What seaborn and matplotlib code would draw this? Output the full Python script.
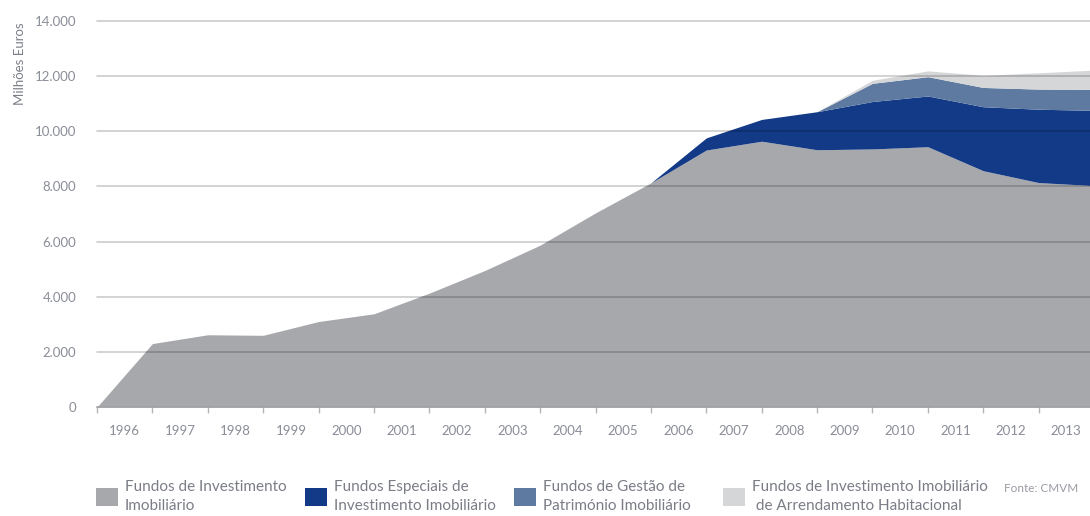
import numpy as np
import pandas as pd
import seaborn as sns
import matplotlib.pyplot as plt
from matplotlib.patches import Patch
from matplotlib.ticker import FuncFormatter, FixedLocator

# anos (valores no fim de cada ano; primeiro ponto = início)
anos = [str(a) for a in range(1996, 2014)]

fii = [0, 2300, 2620, 2600, 3100, 3380, 4130, 4950, 5870, 7040, 8130,
       9320, 9640, 9330, 9360, 9440, 8570, 8140, 8030]
feii = [0, 0, 0, 0, 0, 0, 0, 0, 0, 0, 0,
        440, 790, 1380, 1720, 1840, 2320, 2660, 2730]
fgpi = [0, 0, 0, 0, 0, 0, 0, 0, 0, 0, 0,
        0, 0, 0, 660, 700, 700, 730, 760]
fiiah = [0, 0, 0, 0, 0, 0, 0, 0, 0, 0, 0,
         0, 0, 0, 110, 210, 440, 590, 700]

nomes = ["Fundos de Investimento\nImobiliário",
         "Fundos Especiais de\nInvestimento Imobiliário",
         "Fundos de Gestão de\nPatrimónio Imobiliário",
         "Fundos de Investimento Imobiliário\n de Arrendamento Habitacional"]
cores = ["#a7a8ab", "#133a87", "#5e7aa0", "#d5d6d8"]

df = pd.DataFrame({nomes[0]: fii, nomes[1]: feii, nomes[2]: fgpi, nomes[3]: fiiah})

sns.set_style("white")
plt.rcParams['font.family'] = ['Lato', 'DejaVu Sans']

W, H = 1090, 516
fig = plt.figure(figsize=(W / 100, H / 100), dpi=100)
ax = fig.add_axes([97 / W, 109 / H, 997 / W, 386 / H])

ax.stackplot(df.index, df.T.values, colors=cores, linewidth=0)

ax.set_xlim(0, 18)
ax.set_ylim(0, 14000)

# grelha por cima das áreas
ax.set_axisbelow(False)
ax.yaxis.set_major_locator(FixedLocator(range(0, 14001, 2000)))
ax.yaxis.grid(True, color="black", alpha=0.2, linewidth=1.2)
for gl in ax.get_ygridlines():
    gl.set_clip_on(False)
ax.yaxis.set_major_formatter(FuncFormatter(lambda v, p: f"{int(v):,}".replace(",", ".")))
ax.tick_params(axis="y", length=0, pad=15, labelsize=9.5, labelcolor="#8a8d97")

ax.set_xticks(np.arange(18) + 0.5)
ax.set_xticklabels(anos)
ax.set_xticks(np.arange(19), minor=True)
ax.tick_params(axis="x", which="major", length=0, pad=13, labelsize=9.5, labelcolor="#8a8d97")
ax.tick_params(axis="x", which="minor", length=4, width=1, color="#b5b6b9", bottom=True)

sns.despine(ax=ax, left=True, top=True, right=True)
ax.spines["bottom"].set_color("#c9cacc")
ax.spines["bottom"].set_linewidth(1.2)

fig.text(20 / W, 1 - 64 / H, "Milhões Euros", rotation=90, ha="center", va="center",
         fontsize=9.5, color="#7c7f88")

# legenda: uma por entrada, espaçadas igualmente
for i, (nome, cor) in enumerate(zip(nomes, cores)):
    leg = fig.legend(handles=[Patch(facecolor=cor, edgecolor="none", label=nome)],
                     loc="upper left", bbox_to_anchor=((93 + 209 * i) / W, 1 - 477 / H),
                     frameon=False, fontsize=11, labelcolor="#7a7d86",
                     handlelength=1.45, handleheight=1.45, handletextpad=0.45,
                     borderpad=0.2, borderaxespad=0)
    for t in leg.get_texts():
        t.set_linespacing(1.45)

fig.text(1078 / W, 1 - 489 / H, "Fonte: CMVM", ha="right", va="center",
         fontsize=8.5, color="#9a9ca3")

fig.savefig("out.png", dpi=100)
